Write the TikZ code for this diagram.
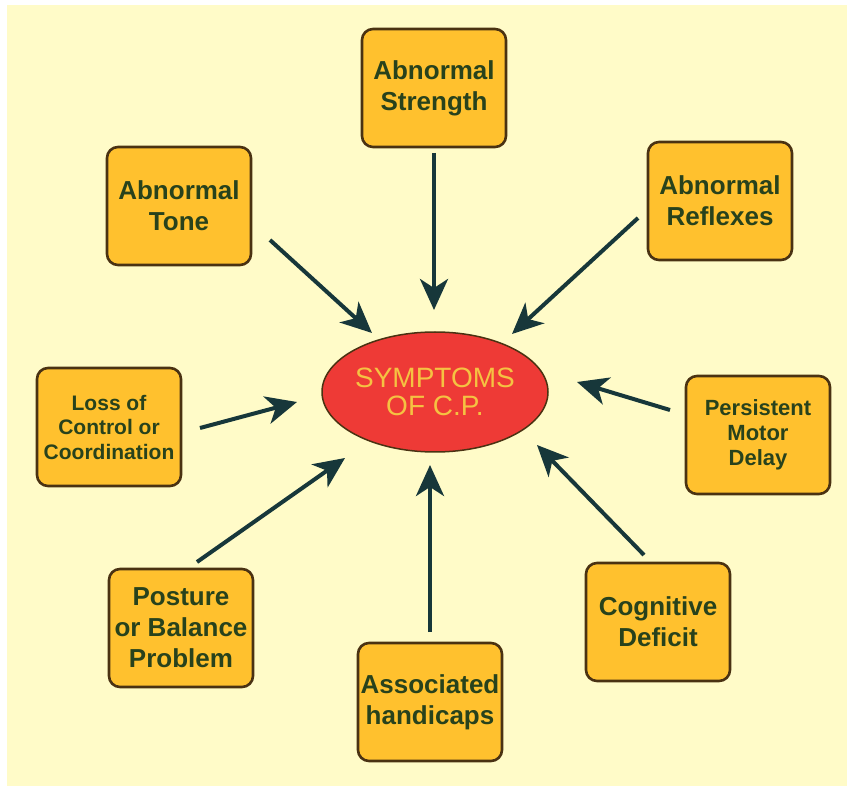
\documentclass[tikz,border=0pt]{standalone}
\usepackage{fontspec}
\setmainfont{Liberation Sans}
\usetikzlibrary{arrows.meta,shapes.geometric}
\definecolor{bgcream}{HTML}{FFFBC8}
\definecolor{boxfill}{HTML}{FFC12E}
\definecolor{boxline}{HTML}{4A3212}
\definecolor{txtgreen}{HTML}{28421C}
\definecolor{arrowcol}{HTML}{17373A}
\definecolor{ellred}{HTML}{EE3A36}
\definecolor{elltxt}{HTML}{F5C242}
\tikzset{
  x=1pt, y=-1pt,
  symbox/.style={draw=boxline, line width=2.6pt, fill=boxfill, rounded corners=11pt,
    minimum width=144pt, minimum height=118pt, inner sep=1pt,
    align=center, text=txtgreen, font=\bfseries\fontsize{26}{31}\selectfont},
  smallbox/.style={symbox, font=\bfseries\fontsize{21}{24.5}\selectfont},
  conn/.style={draw=arrowcol, line width=4pt, -{Stealth[length=31pt,width=28pt,inset=9pt]}}
}
\begin{document}
\begin{tikzpicture}
\useasboundingbox (0,0) rectangle (847,786);
\fill[white] (0,0) rectangle (847,786);
\fill[bgcream] (7,5) rectangle (847,786);

\node[ellipse, draw=boxline, line width=1.5pt, fill=ellred, minimum width=226pt, minimum height=120pt,
  align=center, text=elltxt, font=\fontsize{28}{28}\selectfont, inner sep=0pt] (c) at (435,392) {SYMPTOMS\\OF C.P.};

\node[symbox] (str) at (434,88) {Abnormal\\Strength};
\node[symbox] (tone) at (179,206) {Abnormal\\Tone};
\node[symbox] (refl) at (720,201) {Abnormal\\Reflexes};
\node[smallbox] (loss) at (109,427) {Loss of\\Control or\\Coordination};
\node[smallbox, font=\bfseries\fontsize{22}{25}\selectfont] (pers) at (758,435) {Persistent\\Motor\\Delay};
\node[symbox] (post) at (181,628) {Posture\\or Balance\\Problem};
\node[symbox] (assoc) at (430,702) {Associated\\handicaps};
\node[symbox] (cogn) at (658,622) {Cognitive\\Deficit};

\coordinate (eStr) at (434,310);
\coordinate (eTone) at (372,333);
\coordinate (eRefl) at (512,334);
\coordinate (eLoss) at (297,402);
\coordinate (ePers) at (577,382);
\coordinate (ePost) at (345,458);
\coordinate (eAssoc) at (430,465);
\coordinate (eCogn) at (537,445);

\coordinate (sStr) at (434,153);
\draw[conn] (sStr) -- (eStr);
\coordinate (sTone) at (270,240);
\draw[conn] (sTone) -- (eTone);
\coordinate (sRefl) at (638,218);
\draw[conn] (sRefl) -- (eRefl);
\coordinate (sLoss) at (200,428);
\draw[conn] (sLoss) -- (eLoss);
\coordinate (sPers) at (670,410);
\draw[conn] (sPers) -- (ePers);
\coordinate (sPost) at (197,562);
\draw[conn] (sPost) -- (ePost);
\coordinate (sAssoc) at (430,632);
\draw[conn] (sAssoc) -- (eAssoc);
\coordinate (sCogn) at (644,555);
\draw[conn] (sCogn) -- (eCogn);
\end{tikzpicture}
\end{document}
